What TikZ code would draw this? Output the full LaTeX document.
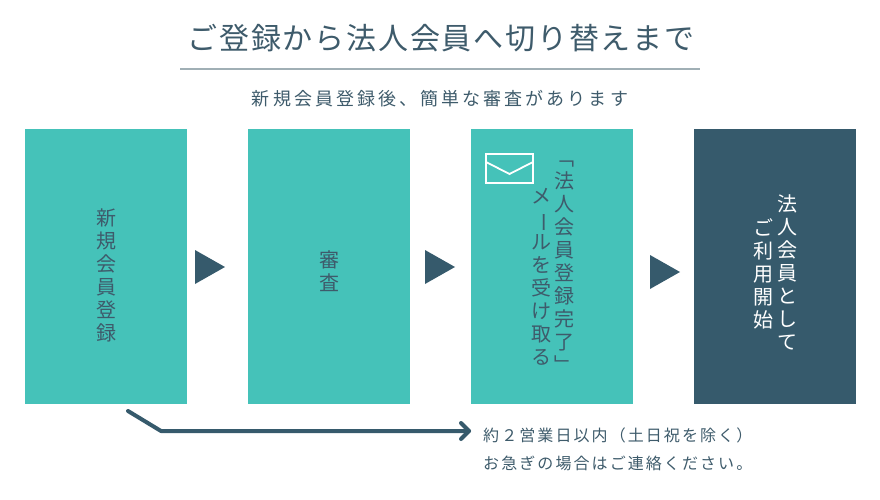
\documentclass[tikz,border=0pt]{standalone}
\usepackage{fontspec}
\usetikzlibrary{calc}
\setmainfont{Noto Sans CJK JP}
\definecolor{flowteal}{HTML}{45C2B9}
\definecolor{flowdark}{HTML}{365A6C}
\definecolor{flowtext}{HTML}{3E5B6B}
\definecolor{flowrule}{HTML}{A0AFB5}
\tikzset{
  stepbox/.style={fill=flowteal, minimum width=162, minimum height=275, anchor=north west, inner sep=0},
  lastbox/.style={stepbox, fill=flowdark},
  vlabel/.style={text=flowtext, align=center, inner sep=0, font=\fontsize{20}{23}\selectfont},
  notetext/.style={anchor=west, text=flowtext, inner sep=0, font={\fontsize{16}{16}\selectfont\addfontfeature{LetterSpace=13}}},
  pointer/.style={fill=flowdark},
}
\begin{document}
\begin{tikzpicture}[x=1pt, y=-1pt]
        \useasboundingbox (0,0) rectangle (880,500);
        % Title and subtitle
        \node (title) at (441,38) [text=flowtext, font={\fontsize{30}{30}\selectfont\addfontfeature{LetterSpace=6}}] {ご登録から法人会員へ切り替えまで};
        \coordinate (ruleL) at (180,69);
        \coordinate (ruleR) at (700,69);
        \draw[flowrule, line width=1.5] (ruleL) -- (ruleR);
        \node (sub) at (440,99) [text=flowtext, font={\fontsize{18}{18}\selectfont\addfontfeature{LetterSpace=17}}] {新規会員登録後、簡単な審査があります};
        
        % Define boxes for the steps
        \node at (25,129) (reg) [stepbox] {};
        \node at (248,129) (check) [stepbox] {};
        \node at (471,129) (mail) [stepbox] {};
        \node at (694,129) (start) [lastbox] {};
        
        % Vertical labels
        \node at (106,275) (regtxt) [vlabel] {新\\規\\会\\員\\登\\録};
        \node at (329,271) (checktxt) [vlabel] {審\\査};
        \node at (564,267) (mailtxtA) [vlabel] {﹁\\法\\人\\会\\員\\登\\録\\完\\了\\﹂};
        \node at (541,277) (mailtxtB) [vlabel] {メ\\\rotatebox[origin=c]{-90}{ー}\\ル\\を\\受\\け\\取\\る};
        \node at (787,272) (starttxtA) [vlabel, text=white] {法\\人\\会\\員\\と\\し\\て};
        \node at (763,274) (starttxtB) [vlabel, text=white] {ご\\利\\用\\開\\始};
        
        % Envelope icon
        \draw[white, line width=1.8] (486,154) rectangle (533,183);
        \draw[white, line width=1.8] (486,162) -- (509.5,174) -- (533,162);
        
        % Pointers between boxes
        \fill[pointer] (195,250) -- (225,267) -- (195,284) -- cycle;
        \fill[pointer] (425,250) -- (455,267) -- (425,284) -- cycle;
        \fill[pointer] (650,255) -- (680,272) -- (650,289) -- cycle;
        
        % Review period note
        \coordinate (noteS) at (128,411);
        \coordinate (noteK) at (161,431);
        \coordinate (noteE) at (469,431);
        \draw[flowdark, line width=4, line cap=round, line join=round] (noteS) -- (noteK) -- (noteE);
        \draw[flowdark, line width=4, line cap=round, line join=round] ($(noteE)+(-8,-8)$) -- (noteE) -- ($(noteE)+(-8,8)$);
        \node at (483,435) (note1) [notetext] {約２営業日以内（土日祝を除く）};
        \node at (483,463) (note2) [notetext] {お急ぎの場合はご連絡ください。};
    \end{tikzpicture}
\end{document}
